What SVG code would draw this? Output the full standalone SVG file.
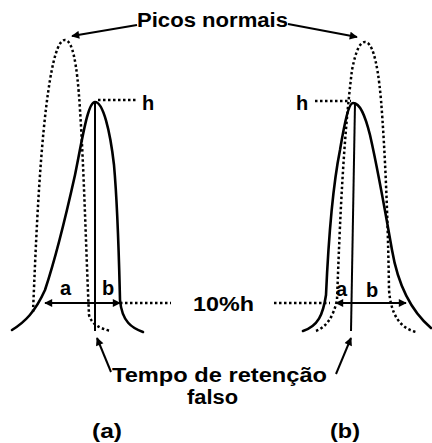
<svg xmlns="http://www.w3.org/2000/svg" width="432" height="443" viewBox="0 0 432 443">
<style>
text{font-family:"Liberation Sans",Arial,sans-serif;font-weight:bold;font-size:20px;fill:#000}
.solid{fill:none;stroke:#000;stroke-width:2.6;stroke-linecap:round;stroke-linejoin:round}
.thin{fill:none;stroke:#000;stroke-width:2;stroke-linecap:butt}
.dot{fill:none;stroke:#000;stroke-width:2.5;stroke-dasharray:2.5 2.5}
</style>
<defs>
<marker id="ah" viewBox="0 0 10 10" refX="9" refY="5" markerWidth="5" markerHeight="4" orient="auto" markerUnits="strokeWidth">
<path d="M0,0 L10,5 L0,10 Z" fill="#000"/>
</marker>
</defs>
<rect width="432" height="443" fill="#fff"/>
<g id="peak-a">
<path class="dot" d="M33,312 C36,240 40,140 50,80 C55,50 60,40 65,40 C72,40 77,60 80,110 C84,170 86,250 89,315 C92,325 100,328 110,331"/>
<path class="solid" d="M12,330 C25,322 35,312 45,290 C55,260 65,220 75,175 C83,135 88,102 95,102 C103,102 110,130 114,165 C118,210 119,260 120,300 C122,322 132,328 143,332"/>
<path class="thin" d="M95,102 L95,331"/>
<path class="dot" d="M98,100 L138,100"/>
<path class="dot" d="M120,303 L171,303"/>
<text x="142" y="110">h</text>
<text x="60" y="295">a</text>
<text x="102" y="295">b</text>
<text x="92" y="438" textLength="30" lengthAdjust="spacingAndGlyphs">(a)</text>
</g>
<g id="peak-b">
<path class="dot" d="M316,331 C326,327 333,318 337,300 C339,250 342,150 352,70 C356,50 360,42 365,42 C371,42 377,55 381,100 C385,150 388,220 389,290 C391,315 400,328 416,332"/>
<path class="solid" d="M303,331 C318,326 323,315 326,295 C328,250 332,190 340,150 C345,120 349,103 353,103 C360,103 365,115 370,135 C378,170 385,210 392,250 C398,285 410,310 431,328"/>
<path class="thin" d="M355,103 L351,331"/>
<path class="dot" d="M315,101 L351,101"/>
<path class="dot" d="M274,303 L330,303"/>
<text x="296" y="110">h</text>
<text x="336" y="296">a</text>
<text x="366" y="297">b</text>
<text x="330" y="438" textLength="30" lengthAdjust="spacingAndGlyphs">(b)</text>
</g>
<g id="labels">
<text x="137" y="27" textLength="151" lengthAdjust="spacingAndGlyphs">Picos normais</text>
<text x="193" y="311" textLength="61" lengthAdjust="spacingAndGlyphs">10%h</text>
<text x="112" y="382" textLength="215" lengthAdjust="spacingAndGlyphs">Tempo de retenção</text>
<text x="187" y="404" textLength="51" lengthAdjust="spacingAndGlyphs">falso</text>
</g>
<g id="connectors">
<path class="thin" d="M137,25 L72,36" stroke-width="2.5" marker-end="url(#ah)"/>
<path class="thin" d="M288,24 L357,37" stroke-width="2.5" marker-end="url(#ah)"/>
<path class="thin" d="M95,303 L45,303" marker-end="url(#ah)"/>
<path class="thin" d="M95,303 L120,303" marker-end="url(#ah)"/>
<path class="thin" d="M351,303 L336,303" marker-end="url(#ah)"/>
<path class="thin" d="M351,303 L406,303" marker-end="url(#ah)"/>
<path class="thin" d="M111,372 L97,338" marker-end="url(#ah)"/>
<path class="thin" d="M336,374 L351,338" marker-end="url(#ah)"/>
</g>
</svg>
